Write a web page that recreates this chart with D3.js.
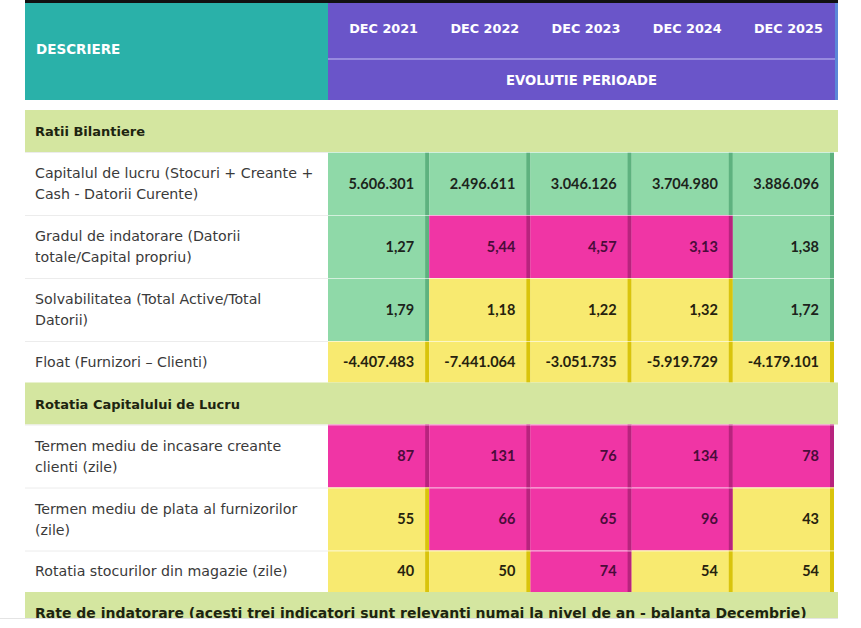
<!DOCTYPE html>
<html>
<head>
<meta charset="utf-8">
<style>
  body { margin: 0; background: #fff; }
  svg { display: block; font-family: "DejaVu Sans", sans-serif; }
</style>
</head>
<body>
<svg id="mysvg"></svg>
<script src="https://d3js.org/d3.v7.min.js"></script>
<script>

  var years = ["DEC 2021", "DEC 2022", "DEC 2023", "DEC 2024", "DEC 2025"];

  var sections = ["Ratii Bilantiere", "Rotatia Capitalului de Lucru",
    "Rate de indatorare (acesti trei indicatori sunt relevanti numai la nivel de an - balanta Decembrie)"];

  // label lines as they wrap in the original
  var labelsRatii = [
    ["Capitalul de lucru (Stocuri + Creante +", "Cash - Datorii Curente)"],
    ["Gradul de indatorare (Datorii", "totale/Capital propriu)"],
    ["Solvabilitatea (Total Active/Total", "Datorii)"],
    ["Float (Furnizori \u2013 Clienti)"]
  ];
  var labelsRotatia = [
    ["Termen mediu de incasare creante", "clienti (zile)"],
    ["Termen mediu de plata al furnizorilor", "(zile)"],
    ["Rotatia stocurilor din magazie (zile)"]
  ];

  var capitalLucru = [5606301, 2496611, 3046126, 3704980, 3886096];
  var gradIndatorare = [1.27, 5.44, 4.57, 3.13, 1.38];
  var solvabilitate = [1.79, 1.18, 1.22, 1.32, 1.72];
  var floatVals = [-4407483, -7441064, -3051735, -5919729, -4179101];
  var termenIncasare = [87, 131, 76, 134, 78];
  var termenPlata = [55, 66, 65, 96, 43];
  var rotatieStocuri = [40, 50, 74, 54, 54];

  // status of each cell: g = bun, y = atentie, p = rau
  var stCapital = ["g", "g", "g", "g", "g"];
  var stGrad = ["g", "p", "p", "p", "g"];
  var stSolv = ["g", "y", "y", "y", "g"];
  var stFloat = ["y", "y", "y", "y", "y"];
  var stIncasare = ["p", "p", "p", "p", "p"];
  var stPlata = ["y", "p", "p", "p", "y"];
  var stStocuri = ["y", "y", "p", "y", "y"];

  var ro = d3.formatLocale({decimal: ",", thousands: ".", grouping: [3], currency: ["", ""], minus: "-"});
  var fmtInt = ro.format(",d");
  var fmtDec = ro.format(",.2f");

  var W = 861, H = 628;
  var svg = d3.select("#mysvg").attr("width", W).attr("height", H);

  var left = 25, labelRight = 328, right = 834;

  var fill = d3.scaleOrdinal().domain(["g", "y", "p"]).range(["#8fd9a8", "#f8ea70", "#f035a5"]);
  var edge = d3.scaleOrdinal().domain(["g", "y", "p"]).range(["#5eb27f", "#d9c40c", "#b8237e"]);
  var ink = d3.scaleOrdinal().domain(["g", "y", "p"]).range(["#1c241c", "#26220e", "#4a0c3a"]);

  var x = d3.scaleBand().domain(years).range([labelRight, right]);
  var bw = x.bandwidth();

  // ---- header ----
  svg.append("rect").attr("x", left).attr("y", 0).attr("width", 838 - left).attr("height", 3).attr("fill", "#111");
  svg.append("rect").attr("x", left).attr("y", 3).attr("width", labelRight - left).attr("height", 97).attr("fill", "#2ab1a9");
  svg.append("rect").attr("x", labelRight).attr("y", 3).attr("width", 835 - labelRight).attr("height", 97).attr("fill", "#6a55c9");
  svg.append("rect").attr("x", 835).attr("y", 3).attr("width", 3).attr("height", 97).attr("fill", "#5b88d8");
  svg.append("line").attr("x1", labelRight).attr("x2", 835).attr("y1", 59).attr("y2", 59)
    .attr("stroke", "#a89ce6").attr("stroke-width", 1.5);

  svg.append("text").attr("x", 36).attr("y", 54).text("DESCRIERE")
    .attr("fill", "#fff").attr("font-weight", "bold").attr("font-size", 13.5);

  svg.selectAll(".yr").data(years).enter().append("text")
    .attr("class", "yr")
    .attr("x", function(d){ return x(d) + bw / 2 + 5; })
    .attr("y", 33)
    .attr("text-anchor", "middle")
    .attr("fill", "#fff").attr("font-weight", "bold").attr("font-size", 12.8)
    .text(function(d){ return d; });

  svg.append("text").attr("x", (labelRight + 835) / 2).attr("y", 85).attr("text-anchor", "middle")
    .attr("fill", "#fff").attr("font-weight", "bold").attr("font-size", 13.2).text("EVOLUTIE PERIOADE");

  // ---- body rows ----
  var rows = [
    {type: "section", label: sections[0], fs: 13},
    {type: "data", lines: labelsRatii[0], vals: capitalLucru, st: stCapital, fmt: fmtInt},
    {type: "data", lines: labelsRatii[1], vals: gradIndatorare, st: stGrad, fmt: fmtDec},
    {type: "data", lines: labelsRatii[2], vals: solvabilitate, st: stSolv, fmt: fmtDec},
    {type: "data", lines: labelsRatii[3], vals: floatVals, st: stFloat, fmt: fmtInt},
    {type: "section", label: sections[1], fs: 13},
    {type: "data", lines: labelsRotatia[0], vals: termenIncasare, st: stIncasare, fmt: fmtInt},
    {type: "data", lines: labelsRotatia[1], vals: termenPlata, st: stPlata, fmt: fmtInt},
    {type: "data", lines: labelsRotatia[2], vals: rotatieStocuri, st: stStocuri, fmt: fmtInt},
    {type: "section", label: sections[2], fs: 14}
  ];

  var yy = 110;
  rows.forEach(function(r){
    r.h = r.type == "section" ? 42 : (r.lines.length > 1 ? 63 : 41.5);
    r.y = yy;
    yy += r.h;
  });

  svg.append("clipPath").attr("id", "clip").append("rect").attr("x", 0).attr("y", 0).attr("width", W).attr("height", 618);

  var body = svg.append("g").attr("clip-path", "url(#clip)");

  var g = body.selectAll(".row").data(rows).enter().append("g")
    .attr("class", "row")
    .attr("transform", function(d){ return "translate(0," + d.y + ")"; });

  var sec = g.filter(function(d){ return d.type == "section"; });
  sec.append("rect").attr("x", left).attr("width", 838 - left).attr("height", function(d){ return d.h; })
    .attr("fill", "#d4e6a0");
  sec.append("text").attr("x", 35).attr("y", function(d){ return d.h / 2 + 5; })
    .attr("font-weight", "bold").attr("font-size", function(d){ return d.fs; }).attr("fill", "#1d2410")
    .text(function(d){ return d.label; });

  var dat = g.filter(function(d){ return d.type == "data"; });
  dat.append("line").attr("x1", left).attr("x2", labelRight).attr("y1", 0.5).attr("y2", 0.5)
    .attr("stroke", "#ececec");

  dat.each(function(d){
    var n = d.lines.length;
    d3.select(this).selectAll(".lbl").data(d.lines).enter().append("text")
      .attr("class", "lbl")
      .attr("x", 35)
      .attr("y", function(t, i){ return d.h / 2 + 5 + (i - (n - 1) / 2) * 21; })
      .attr("font-size", 14.2).attr("fill", "#3a3a3a")
      .text(function(t){ return t; });

    var cells = d3.select(this).selectAll(".cell").data(d.vals).enter().append("g").attr("class", "cell");
    cells.append("rect")
      .attr("x", function(v, i){ return x(years[i]); })
      .attr("width", bw).attr("height", d.h)
      .attr("fill", function(v, i){ return fill(d.st[i]); });
    cells.append("rect")
      .attr("x", function(v, i){ return x(years[i]) + bw - 4; })
      .attr("width", 4).attr("height", d.h)
      .attr("fill", function(v, i){ return edge(d.st[i]); });
    cells.append("text")
      .attr("x", function(v, i){ return x(years[i]) + bw - 15; })
      .attr("y", d.h / 2 + 5)
      .attr("text-anchor", "end")
      .attr("font-family", "Lato, sans-serif")
      .attr("font-weight", "bold").attr("font-size", 14.5)
      .attr("fill", function(v, i){ return ink(d.st[i]); })
      .text(function(v){ return d.fmt(v); });
    d3.select(this).append("line").attr("x1", labelRight).attr("x2", right).attr("y1", 0.5).attr("y2", 0.5)
      .attr("stroke", "#fff").attr("stroke-opacity", 0.6);
  });

  svg.append("line").attr("x1", 0).attr("x2", 838).attr("y1", 618.5).attr("y2", 618.5).attr("stroke", "#e4e4e4");

</script>
</body>
</html>
